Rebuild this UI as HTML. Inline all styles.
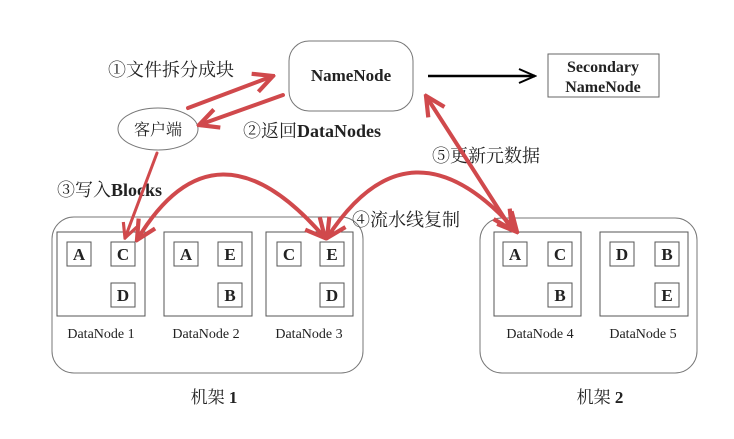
<!DOCTYPE html>
<html><head><meta charset="utf-8"><style>
body{margin:0;background:#fff;}
svg text{font-family:"Liberation Serif","Noto Serif CJK SC","Noto Sans CJK SC",serif;fill:#222;}
</style></head><body>
<svg width="734" height="434" viewBox="0 0 734 434" xmlns="http://www.w3.org/2000/svg">
<defs>
<marker id="r" viewBox="0 0 20 20" refX="18" refY="10" markerWidth="6" markerHeight="6" orient="auto-start-reverse" markerUnits="strokeWidth">
<path d="M2,2 L18,10 L2,18" fill="none" stroke="#d0494c" stroke-width="3.5"/>
</marker>
<marker id="k" viewBox="0 0 20 20" refX="18" refY="10" markerWidth="8" markerHeight="8" orient="auto" markerUnits="strokeWidth">
<path d="M2,3 L18,10 L2,17" fill="none" stroke="#000" stroke-width="2"/>
</marker>
</defs>
<g fill="none" stroke="#777" stroke-width="1">
<rect x="52" y="217" width="311" height="156" rx="22"/>
<rect x="480" y="218" width="217" height="155" rx="22"/>
<rect x="289" y="41" width="124" height="70" rx="20"/>
<ellipse cx="158" cy="129" rx="40" ry="21"/>
</g>
<rect x="548" y="54" width="111" height="43" fill="none" stroke="#666"/>
<g fill="none" stroke="#555" stroke-width="1">
<rect x="57" y="232" width="88" height="84"/>
<rect x="164" y="232" width="88" height="84"/>
<rect x="266" y="232" width="87" height="84"/>
<rect x="494" y="232" width="87" height="84"/>
<rect x="600" y="232" width="88" height="84"/>
<rect x="67" y="242" width="24" height="24"/><rect x="111" y="242" width="24" height="24"/><rect x="111" y="283" width="24" height="24"/>
<rect x="174" y="242" width="24" height="24"/><rect x="218" y="242" width="24" height="24"/><rect x="218" y="283" width="24" height="24"/>
<rect x="277" y="242" width="24" height="24"/><rect x="320" y="242" width="24" height="24"/><rect x="320" y="283" width="24" height="24"/>
<rect x="503" y="242" width="24" height="24"/><rect x="548" y="242" width="24" height="24"/><rect x="548" y="283" width="24" height="24"/>
<rect x="610" y="242" width="24" height="24"/><rect x="655" y="242" width="24" height="24"/><rect x="655" y="283" width="24" height="24"/>
</g>
<g font-weight="bold" font-size="17" text-anchor="middle">
<text x="79" y="260">A</text><text x="123" y="260">C</text><text x="123" y="301">D</text>
<text x="186" y="260">A</text><text x="230" y="260">E</text><text x="230" y="301">B</text>
<text x="289" y="260">C</text><text x="332" y="260">E</text><text x="332" y="301">D</text>
<text x="515" y="260">A</text><text x="560" y="260">C</text><text x="560" y="301">B</text>
<text x="622" y="260">D</text><text x="667" y="260">B</text><text x="667" y="301">E</text>
</g>
<g font-size="14" text-anchor="middle">
<text x="101" y="338">DataNode 1</text><text x="206" y="338">DataNode 2</text><text x="309" y="338">DataNode 3</text>
<text x="540" y="338">DataNode 4</text><text x="643" y="338">DataNode 5</text>
</g>
<g font-size="17" text-anchor="middle">
<text x="214" y="403">机架 <tspan font-weight="bold">1</tspan></text>
<text x="600" y="403">机架 <tspan font-weight="bold">2</tspan></text>
</g>
<text x="351" y="81" font-size="17" font-weight="bold" text-anchor="middle">NameNode</text>
<text x="603" y="72" font-size="16" font-weight="bold" text-anchor="middle">Secondary</text>
<text x="603" y="92" font-size="16" font-weight="bold" text-anchor="middle">NameNode</text>
<text x="158" y="135" font-size="16" text-anchor="middle">客户端</text>
<g font-size="18">
<text x="108" y="76">①文件拆分成块</text>
<text x="243" y="137">②返回<tspan font-weight="bold">DataNodes</tspan></text>
<text x="57" y="196">③写入<tspan font-weight="bold">Blocks</tspan></text>
<text x="352" y="226">④流水线复制</text>
<text x="432" y="162">⑤更新元数据</text>
</g>
<line x1="428" y1="76" x2="535" y2="76" stroke="#000" stroke-width="2.5" marker-end="url(#k)"/>
<g fill="none" stroke="#d0494c" stroke-width="4" stroke-linecap="round">
<line x1="188" y1="108" x2="273" y2="76" marker-end="url(#r)"/>
<line x1="283" y1="95" x2="199" y2="125" marker-end="url(#r)"/>
<line x1="157" y1="153" x2="125" y2="238" stroke-width="3" marker-end="url(#r)"/>
<path d="M137,240 Q215,110 325,238" marker-start="url(#r)" marker-end="url(#r)"/>
<path d="M327,238 Q410,110 517,232" marker-start="url(#r)" marker-end="url(#r)"/>
<line x1="426" y1="96" x2="512" y2="230" marker-start="url(#r)" marker-end="url(#r)"/>
</g>
</svg>
</body></html>
